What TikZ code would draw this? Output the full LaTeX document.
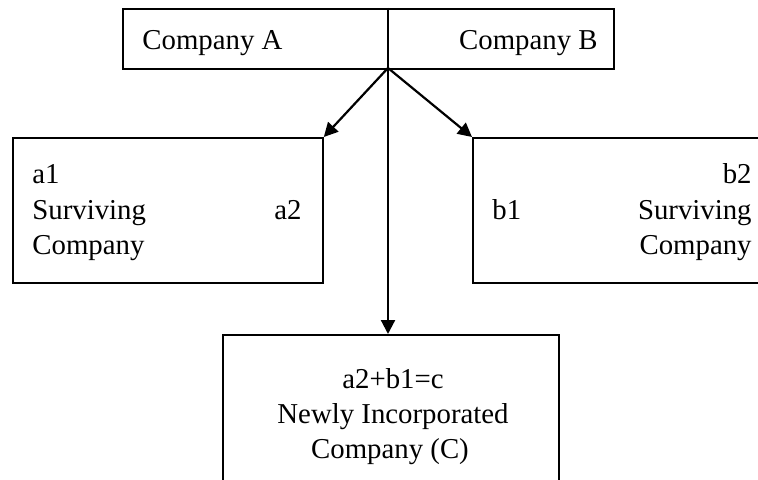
\documentclass[tikz,border=0pt]{standalone}
\usepackage{fontspec}
\setmainfont{Liberation Serif}
\usetikzlibrary{arrows.meta}
\begin{document}
\begin{tikzpicture}[x=0.5pt,y=-0.5pt,
  box/.style={draw,line width=0.9pt,rectangle,inner sep=0pt,anchor=north west},
  txt/.style={inner sep=0pt,font=\fontsize{14.4}{17.5}\selectfont},
  flow/.style={line width=1.1pt,-{Triangle[length=7pt,width=7pt]}}]
\useasboundingbox (0,0) rectangle (758,480);
\clip (0,0) rectangle (758,480);
% boxes
\node[box,minimum width=491*0.5pt,minimum height=60*0.5pt] (top) at (122,8) {};
\draw[line width=0.9pt] (388,8) -- (388,68) coordinate (split);
\node[box,minimum width=310*0.5pt,minimum height=145*0.5pt] (left) at (12,137) {};
\node[box,minimum width=340*0.5pt,minimum height=145*0.5pt] (right) at (472,137) {};
\node[box,minimum width=336*0.5pt,minimum height=190*0.5pt] (bottom) at (222,334) {};
% labels
\node[txt,anchor=base west] (ca) at (142,50) {Company A};
\node[txt,anchor=base east] (cb) at (598,50) {Company B};
\node[txt,anchor=base west] (a1) at (32,184) {a1};
\node[txt,anchor=base west] (as) at (32,220) {Surviving};
\node[txt,anchor=base east] (a2) at (302,220) {a2};
\node[txt,anchor=base west] (ac) at (32,255) {Company};
\node[txt,anchor=base east] (b2) at (752,184) {b2};
\node[txt,anchor=base west] (b1) at (492,220) {b1};
\node[txt,anchor=base east] (bs) at (752,220) {Surviving};
\node[txt,anchor=base east] (bc) at (752,255) {Company};
\node[txt,anchor=base] (c1) at (393,388) {a2+b1=c};
\node[txt,anchor=base] (c2) at (393,423) {Newly Incorporated};
\node[txt,anchor=base] (c3) at (390,458) {Company (C)};
% connectors
\draw[flow] (split) -- (left.north east);
\draw[flow] (split) -- (right.north west);
\draw[flow] (split) -- (split |- bottom.north);
\end{tikzpicture}
\end{document}
